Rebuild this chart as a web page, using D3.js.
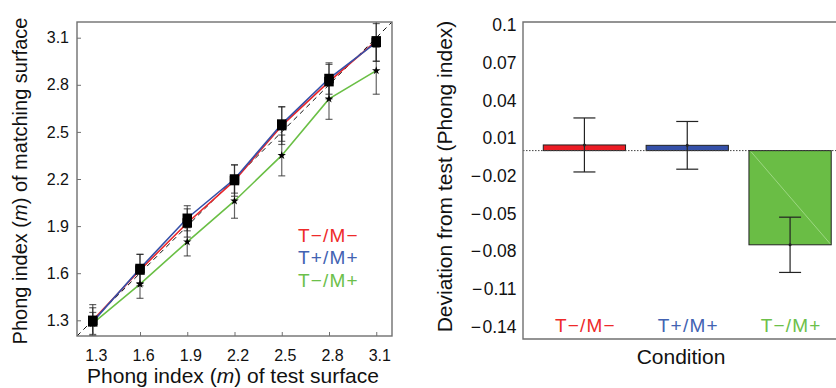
<!DOCTYPE html>
<html><head><meta charset="utf-8">
<script src="https://cdn.jsdelivr.net/npm/d3@7"></script>
<style>
html,body{margin:0;padding:0;background:#fff;}
svg{display:block;font-family:"Liberation Sans",Arial,Helvetica,sans-serif;}
</style></head>
<body><svg id="c" width="836" height="388"></svg>
<script>
// ---------- data ----------
const testValues = [1.3, 1.6, 1.9, 2.2, 2.5, 2.8, 3.1];
const leftTicks = [1.3, 1.6, 1.9, 2.2, 2.5, 2.8, 3.1];
const redMatch   = [1.30, 1.62, 1.92, 2.19, 2.54, 2.82, 3.08];
const blueMatch  = [1.29, 1.63, 1.95, 2.20, 2.55, 2.84, 3.07];
const greenMatch = [1.28, 1.53, 1.80, 2.06, 2.35, 2.71, 2.89];
const redErr   = [0.10, 0.10, 0.09, 0.10, 0.12, 0.11, 0.13];
const blueErr  = [0.09, 0.09, 0.08, 0.09, 0.11, 0.10, 0.12];
const greenErr = [0.07, 0.09, 0.09, 0.11, 0.13, 0.13, 0.15];
const legendLabels = ["T\u2212/M\u2212", "T+/M+", "T\u2212/M+"];

const conditions = ["T\u2212/M\u2212", "T+/M+", "T\u2212/M+"];
const deviation = [0.0045, 0.0042, -0.075];
const deviationErr = [0.0215, 0.019, 0.022];
const rightTicks = [0.1, 0.07, 0.04, 0.01, -0.02, -0.05, -0.08, -0.11, -0.14];

const lineColors = ["#e8262a", "#3550a8", "#6abf45"];
const barColors  = ["#ec1c24", "#3550a8", "#6abd45"];
const textColors = ["#ee2a2a", "#4262b2", "#6cc04a"];

const svg = d3.select("#c");
const frameColor = "#707070";

// ---------- left panel ----------
const L = {x0: 77, x1: 392, y0: 22, y1: 336};
const x = d3.scaleLinear().domain([1.2, 3.2]).range([L.x0, L.x1]);
const y = d3.scaleLinear().domain([1.2, 3.2]).range([L.y1, L.y0]);

svg.append("clipPath").attr("id", "lclip").append("rect")
  .attr("x", L.x0).attr("y", L.y0).attr("width", L.x1 - L.x0).attr("height", L.y1 - L.y0);

const lg = svg.append("g");
// diagonal
lg.append("line")
  .attr("x1", x(1.2)).attr("y1", y(1.2)).attr("x2", x(3.2)).attr("y2", y(3.2))
  .attr("stroke", "#111").attr("stroke-width", 1).attr("stroke-dasharray", "5,4");

const plotArea = lg.append("g").attr("clip-path", "url(#lclip)");
const series = [
  {vals: greenMatch, err: greenErr, color: lineColors[2], marker: "star"},
  {vals: redMatch, err: redErr, color: lineColors[0], marker: "square"},
  {vals: blueMatch, err: blueErr, color: lineColors[1], marker: "square"}
];
const line = d3.line().x((d, i) => x(testValues[i])).y(d => y(d));
series.forEach(s => {
  plotArea.append("path").datum(s.vals).attr("d", line)
    .attr("fill", "none").attr("stroke", s.color).attr("stroke-width", 1.6);
});
// error bars
series.forEach(s => {
  const g = plotArea.append("g").attr("stroke", "#222").attr("stroke-opacity", 0.7).attr("stroke-width", 1.2);
  s.vals.forEach((v, i) => {
    const cx = x(testValues[i]);
    g.append("line").attr("x1", cx).attr("x2", cx).attr("y1", y(v - s.err[i])).attr("y2", y(v + s.err[i]));
    [v - s.err[i], v + s.err[i]].forEach(e => {
      g.append("line").attr("x1", cx - 3.5).attr("x2", cx + 3.5).attr("y1", y(e)).attr("y2", y(e));
    });
  });
});
// markers
series.forEach(s => {
  const sym = s.marker === "star" ? d3.symbol().type(d3.symbolStar).size(22) : d3.symbol().type(d3.symbolSquare).size(90);
  plotArea.selectAll(null).data(s.vals).enter().append("path")
    .attr("d", sym)
    .attr("transform", (d, i) => `translate(${x(testValues[i])},${y(d)})`)
    .attr("fill", "#000");
});

// frame
lg.append("rect").attr("x", L.x0).attr("y", L.y0).attr("width", L.x1 - L.x0).attr("height", L.y1 - L.y0)
  .attr("fill", "none").attr("stroke", frameColor).attr("stroke-width", 1.4);

// ticks
const yAxisL = d3.axisLeft(y).tickValues(leftTicks).tickSize(-4).tickPadding(8).tickFormat(d3.format(".1f"));
const xAxisL = d3.axisBottom(x).tickValues(leftTicks).tickSize(-4).tickPadding(14).tickFormat(d3.format(".1f"));
const gy = lg.append("g").attr("transform", `translate(${L.x0},0)`).call(yAxisL);
const gx = lg.append("g").attr("transform", `translate(0,${L.y1})`).call(xAxisL);
[gy, gx].forEach(g => {
  g.select(".domain").remove();
  g.selectAll(".tick line").attr("stroke", frameColor);
  g.selectAll(".tick text").attr("fill", "#111").style("font-size", "16px")
   .style("font-family", "'Liberation Sans',Arial,sans-serif");
});
gx.selectAll(".tick text").attr("dx", 3);

// legend
legendLabels.forEach((t, i) => {
  lg.append("text").attr("x", 298).attr("y", 241.5 + i * 22.5)
    .attr("fill", textColors[i]).style("font-size", "19px").style("letter-spacing", "1.2px").text(t);
});

// axis titles
const ylabL = lg.append("text").attr("transform", `translate(26.5,${(L.y0 + L.y1) / 2 + 2}) rotate(-90)`)
  .attr("text-anchor", "middle").style("font-size", "20px").attr("fill", "#111");
ylabL.append("tspan").text("Phong index (");
ylabL.append("tspan").style("font-style", "italic").text("m");
ylabL.append("tspan").text(") of matching surface");

const xlabL = lg.append("text").attr("x", 233).attr("y", 382.5)
  .attr("text-anchor", "middle").style("font-size", "21px").attr("fill", "#111");
xlabL.append("tspan").text("Phong index (");
xlabL.append("tspan").style("font-style", "italic").text("m");
xlabL.append("tspan").text(") of test surface");

// ---------- right panel ----------
const R = {x0: 523, x1: 845, y0: 22, y1: 339};
const yr = d3.scaleLinear().domain([-0.15, 0.1024]).range([R.y1, R.y0]);
const xb = d3.scaleBand().domain(conditions).range([533, 841.5]).paddingInner(0.2).paddingOuter(0.1);
const rg = svg.append("g");

// bars
conditions.forEach((c, i) => {
  const v = deviation[i];
  rg.append("rect")
    .attr("x", xb(c)).attr("width", xb.bandwidth())
    .attr("y", yr(Math.max(0, v))).attr("height", Math.abs(yr(v) - yr(0)))
    .attr("fill", barColors[i]).attr("stroke", "#222").attr("stroke-width", 1);
});
// faint rendering diagonal on the large bar
{
  const c = conditions[2];
  rg.append("line")
    .attr("x1", xb(c) + 2).attr("y1", yr(0) + 1)
    .attr("x2", xb(c) + xb.bandwidth() - 1).attr("y2", yr(deviation[2]) - 1)
    .attr("stroke", "#a9de92").attr("stroke-width", 0.8);
}
// zero line
rg.append("line").attr("x1", R.x0).attr("x2", 836).attr("y1", yr(0)).attr("y2", yr(0))
  .attr("stroke", "#444").attr("stroke-width", 1).attr("stroke-dasharray", "1.5,1.5");
// error bars
conditions.forEach((c, i) => {
  const cx = xb(c) + xb.bandwidth() / 2;
  const lo = deviation[i] - deviationErr[i], hi = deviation[i] + deviationErr[i];
  const g = rg.append("g").attr("stroke", "#222").attr("stroke-width", 1.2);
  g.append("line").attr("x1", cx).attr("x2", cx).attr("y1", yr(lo)).attr("y2", yr(hi));
  [lo, hi].forEach(e => g.append("line").attr("x1", cx - 11).attr("x2", cx + 11).attr("y1", yr(e)).attr("y2", yr(e)));
  rg.append("circle").attr("cx", cx).attr("cy", yr(deviation[i])).attr("r", 1.5).attr("fill", "#222");
});

// frame (left, top, bottom)
rg.append("path")
  .attr("d", `M${R.x1},${R.y0}H${R.x0}V${R.y1}H${R.x1}`)
  .attr("fill", "none").attr("stroke", frameColor).attr("stroke-width", 1.4);

// y tick labels
const fmtR = v => (v < 0 ? "\u2212\u200A" : "") + d3.format("")(Math.abs(v));
rg.selectAll(null).data(rightTicks).enter().append("text")
  .attr("x", 516.5).attr("y", d => yr(d)).attr("dy", "0.36em")
  .attr("text-anchor", "end").style("font-size", "17.5px").attr("fill", "#111")
  .text(d => fmtR(d));

// category labels
conditions.forEach((c, i) => {
  rg.append("text").attr("x", xb(c) + xb.bandwidth() / 2 + 1).attr("y", 332)
    .attr("text-anchor", "middle").attr("fill", textColors[i])
    .style("font-size", "19px").style("letter-spacing", "1.2px").text(c);
});

rg.append("text").attr("x", 681).attr("y", 363.5).attr("text-anchor", "middle")
  .style("font-size", "21px").attr("fill", "#111").text("Condition");

rg.append("text").attr("transform", `translate(452,176.5) rotate(-90)`)
  .attr("text-anchor", "middle").style("font-size", "21px").attr("fill", "#111")
  .text("Deviation from test (Phong index)");
</script>
</body></html>
